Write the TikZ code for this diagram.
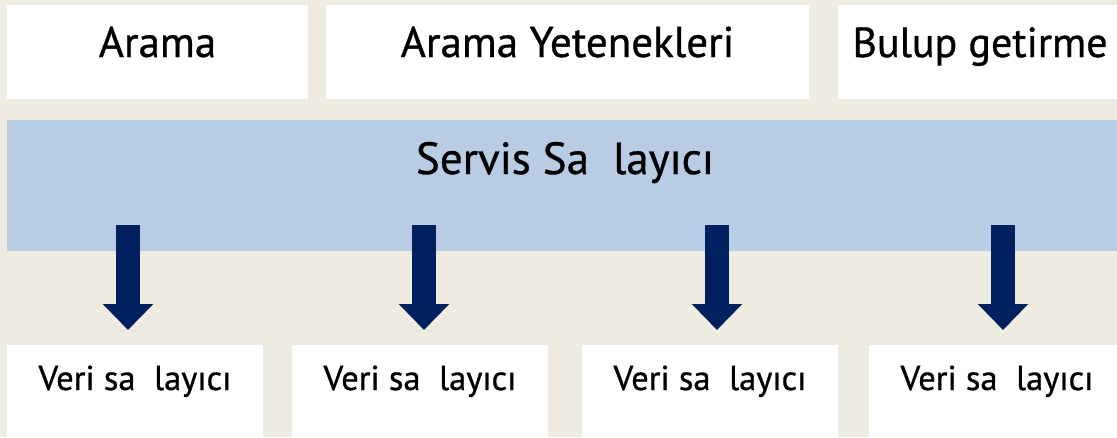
\documentclass[tikz,border=0pt]{standalone}
\usepackage{fontspec}
\setmainfont{PT Sans}[FakeBold=0.8]
\usetikzlibrary{arrows.meta}
\definecolor{bgbeige}{HTML}{EEECE1}
\definecolor{bandblue}{HTML}{B8CCE4}
\definecolor{navy}{HTML}{002060}
\tikzset{
  topbox/.style={fill=white, inner sep=0pt, text height=52pt, text depth=42pt,
    font=\fontsize{43}{50}\selectfont},
  bandbox/.style={fill=bandblue, inner sep=0pt, text height=54pt, text depth=77pt,
    font=\fontsize{45}{52}\selectfont},
  lowbox/.style={fill=white, inner sep=0pt, text height=45pt, text depth=47pt,
    minimum width=256pt, font=\fontsize{34.5}{40}\selectfont},
  bigarrow/.style={draw=navy, line width=24pt,
    -{Triangle[length=26pt,width=49pt]}}
}
\begin{document}
\begin{tikzpicture}[x=1pt,y=-1pt]
\useasboundingbox (0,0) rectangle (1117,437);
\clip (0,0) rectangle (1117,437);
\fill[bgbeige] (0,0) rectangle (1117,437);
% top boxes
\node[topbox, minimum width=301pt] (t1) at (157.5,52) {Arama};
\node[topbox, minimum width=483pt] (t2) at (567.5,52) {Arama Yetenekleri};
\node[topbox, minimum width=284pt] (t3) at (980,52) {\fontsize{42}{50}\selectfont Bulup getirme};
% band
\node[bandbox, minimum width=1116pt] (band) at (565,185.5) {Servis Sa\phantom{ğ}layıcı};
% bottom boxes
\node[lowbox] (v1) at (135,391) {Veri sa\phantom{ğ}layıcı};
\node[lowbox] (v2) at (420,391) {Veri sa\phantom{ğ}layıcı};
\node[lowbox] (v3) at (710,391) {Veri sa\phantom{ğ}layıcı};
\node[lowbox] (v4) at (997,391) {Veri sa\phantom{ğ}layıcı};
% arrows
\coordinate (a1s) at (128,225); \coordinate (a1e) at (128,330);
\coordinate (a2s) at (424,225); \coordinate (a2e) at (424,330);
\coordinate (a3s) at (717,225); \coordinate (a3e) at (717,330);
\coordinate (a4s) at (1003,225); \coordinate (a4e) at (1003,330);
\draw[bigarrow] (a1s) -- (a1e);
\draw[bigarrow] (a2s) -- (a2e);
\draw[bigarrow] (a3s) -- (a3e);
\draw[bigarrow] (a4s) -- (a4e);
\end{tikzpicture}
\end{document}
